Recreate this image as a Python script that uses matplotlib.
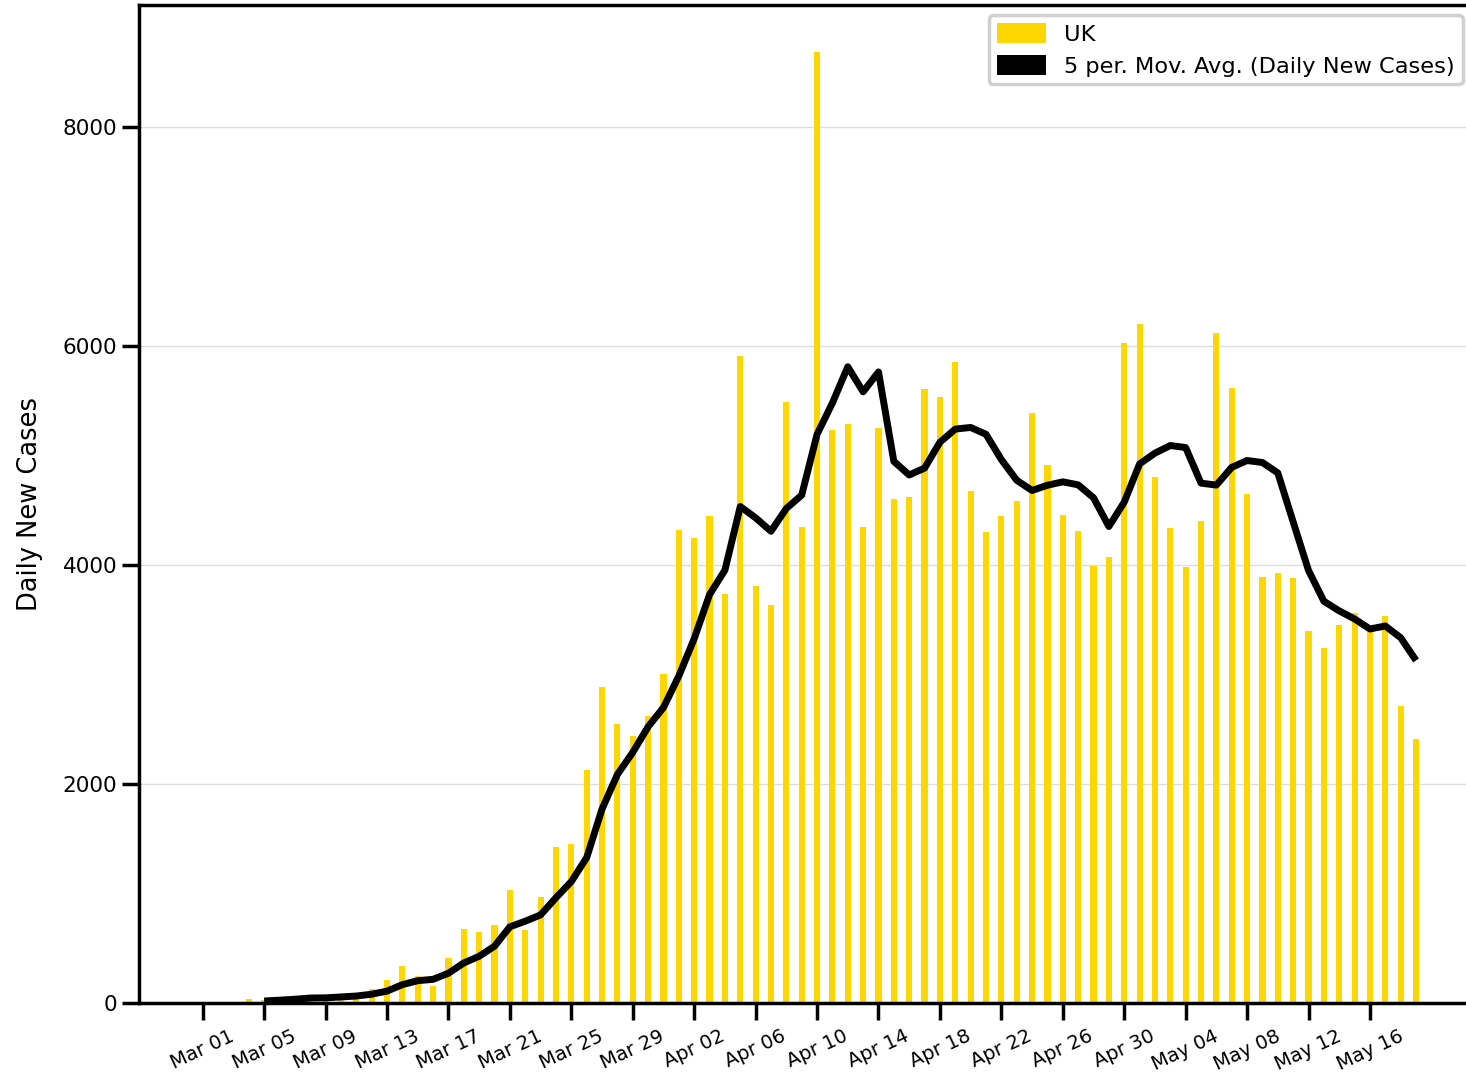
import matplotlib
matplotlib.use("Agg")
import matplotlib.pyplot as plt
from matplotlib.patches import Patch
import numpy as np
import pandas as pd

# daily new cases, UK, starting 2020-03-01
start_date = "2020-03-01"
cases = [
    10, 3, 12, 36, 30, 48, 45, 68, 45, 70,
    90, 128, 210, 341, 250, 152, 408, 679, 645, 712,
    1035, 664, 968, 1427, 1452, 2128, 2882, 2548, 2435, 2621,
    3007, 4322, 4249, 4450, 3738, 5911, 3805, 3637, 5491, 4347,
    8687, 5236, 5290, 4347, 5254, 4602, 4617, 5603, 5530, 5854,
    4676, 4304, 4450, 4584, 5388, 4916, 4459, 4313, 3993, 4076,
    6030, 6203, 4806, 4340, 3984, 4404, 6115, 5616, 4651, 3893,
    3929, 3878, 3400, 3245, 3452, 3561, 3420, 3537, 2709, 2414,
]
window = 5
yticks = [0, 2000, 4000, 6000, 8000]

dates = pd.date_range(start_date, periods=len(cases), freq="D")
df = pd.DataFrame({"cases": cases}, index=dates)
df["mavg"] = df["cases"].rolling(window).mean()
pos = np.arange(len(df))

fig = plt.figure(figsize=(14.66, 10.75), dpi=100)
ax = fig.add_axes([139 / 1466, 72 / 1075, 1340 / 1466, 998 / 1075])

ax.bar(pos, df["cases"], width=0.4, color="#FFD700", zorder=2)
ax.plot(pos, df["mavg"], color="black", linewidth=5, zorder=3,
        solid_capstyle="butt")

ax.set_xlim(-4.15, 83.1)
ax.set_ylim(0, 9114)
ax.set_yticks(yticks)
ax.yaxis.grid(True, color="#dddddd", linewidth=1, zorder=0)
ax.set_axisbelow(True)

tick_pos = pos[::4]
ax.set_xticks(tick_pos)
ax.set_xticklabels([d.strftime("%b %d") for d in dates[::4]],
                   rotation=25, ha="center")
ax.tick_params(axis="both", width=2.5, length=12, direction="out")
ax.tick_params(axis="y", labelsize=15.5)
ax.tick_params(axis="x", labelsize=14, pad=5)

for side in ["left", "bottom", "top", "right"]:
    ax.spines[side].set_linewidth(2.5)

ax.set_ylabel("Daily New Cases", fontsize=18.5, labelpad=14)

handles = [Patch(facecolor="#FFD700"), Patch(facecolor="black")]
fig.legend(handles, ["UK", "5 per. Mov. Avg. (Daily New Cases)"],
           loc="upper right", bbox_to_anchor=(1.0055, 0.9965),
           fontsize=16.2, handlelength=2.2, handleheight=1.0,
           frameon=True, edgecolor="#d0d0d0", framealpha=1.0,
           borderpad=0.35, labelspacing=0.45, handletextpad=0.8)
fig.legends[0].get_frame().set_linewidth(2.5)

fig.savefig("out.png", dpi=100)
